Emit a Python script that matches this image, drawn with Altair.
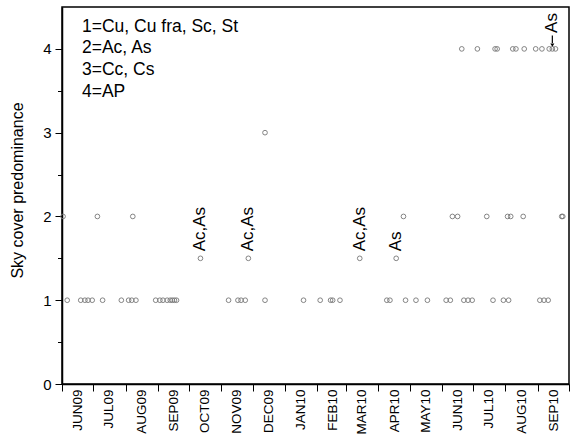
import altair as alt
import pandas as pd

FONT = "Liberation Sans"

# Observation dates for each sky-cover class
cover_1_dates = [
    "2009-06-06", "2009-06-19", "2009-06-23", "2009-06-26", "2009-06-30",
    "2009-07-10", "2009-07-28", "2009-08-04", "2009-08-07", "2009-08-11",
    "2009-08-30", "2009-09-03", "2009-09-06", "2009-09-10", "2009-09-13",
    "2009-09-15", "2009-09-17", "2009-09-19", "2009-11-08", "2009-11-17",
    "2009-11-20", "2009-11-24", "2009-12-13", "2010-01-19", "2010-02-04",
    "2010-02-14", "2010-02-16", "2010-02-23", "2010-04-09", "2010-04-12",
    "2010-04-27", "2010-05-07", "2010-05-18", "2010-06-05", "2010-06-09",
    "2010-06-22", "2010-06-26", "2010-06-30", "2010-07-20", "2010-07-30",
    "2010-08-04", "2010-09-03", "2010-09-07", "2010-09-11",
]
cover_15_dates = ["2009-10-12", "2009-11-27", "2010-03-14", "2010-04-18"]
cover_2_dates = [
    "2009-06-02", "2009-07-05", "2009-08-08", "2010-04-25", "2010-06-11",
    "2010-06-16", "2010-07-14", "2010-08-03", "2010-08-06", "2010-08-18",
    "2010-09-24", "2010-09-25",
]
cover_3_dates = ["2009-12-13"]
cover_4_dates = [
    "2010-06-20", "2010-07-05", "2010-07-22", "2010-07-24", "2010-08-08",
    "2010-08-11", "2010-08-19", "2010-08-30", "2010-09-05", "2010-09-12",
    "2010-09-15", "2010-09-18",
]

# Cloud-type notes written beside the mixed days
note_dates = ["2009-10-12", "2009-11-27", "2010-03-14", "2010-04-18"]
note_labels = ["Ac,As", "Ac,As", "Ac,As", "As"]
arrow_date = "2010-09-15"
arrow_label = "As"

key_lines = ["1=Cu, Cu fra, Sc, St", "2=Ac, As", "3=Cc, Cs", "4=AP"]

month_labels = ["JUN09", "JUL09", "AUG09", "SEP09", "OCT09", "NOV09", "DEC09",
                "JAN10", "FEB10", "MAR10", "APR10", "MAY10", "JUN10", "JUL10",
                "AUG10", "SEP10"]

rows = []
for dates, level in [(cover_1_dates, 1), (cover_15_dates, 1.5), (cover_2_dates, 2),
                     (cover_3_dates, 3), (cover_4_dates, 4)]:
    rows += [{"date": d, "cover": level} for d in dates]
obs = pd.DataFrame(rows)
notes = pd.DataFrame({"date": note_dates, "cover": [1.5] * len(note_dates),
                      "label": note_labels})
arrow_note = pd.DataFrame({"date": [arrow_date], "cover": [4], "label": [arrow_label]})
arrow_line = pd.DataFrame({"date": [arrow_date], "cover": [4.16], "cover_end": [4.07]})
arrow_head = pd.DataFrame({"date": [arrow_date], "cover": [4.045]})

# Month boundaries carry ticks, mid-month values carry the labels
tick_values = []
for i in range(17):
    y, m = 2009 + (5 + i) // 12, (5 + i) % 12 + 1
    tick_values.append(alt.DateTime(year=y, month=m, date=1, utc=True))
    if i < 16:
        tick_values.append(alt.DateTime(year=y, month=m, date=16, utc=True))

label_array = "[" + ",".join(f"'{s}'" for s in month_labels) + "]"
x_label_expr = (f"utcdate(datum.value) == 1 ? '' : "
                f"{label_array}[(utcyear(datum.value) - 2009) * 12 + utcmonth(datum.value) - 5]")

x_scale = alt.Scale(type="utc", domain=[alt.DateTime(year=2009, month=6, date=1, utc=True),
                                        alt.DateTime(year=2010, month=10, date=1, utc=True)])
x_axis = alt.Axis(values=tick_values, labelExpr=x_label_expr, labelAngle=-90,
                  labelFontSize=13.5, labelPadding=-2, tickSize=7, labelOverlap=False,
                  labelBound=False, labelFlush=False,
                  tickOpacity={"condition": {"test": "utcdate(datum.value) != 1", "value": 0},
                               "value": 1})

y_scale = alt.Scale(domain=[0, 4.5], nice=False, zero=False)
y_axis = alt.Axis(values=[0, 0.5, 1, 1.5, 2, 2.5, 3, 3.5, 4],
                  labelExpr="datum.value % 1 == 0 ? format(datum.value, 'd') : ''",
                  labelFontSize=15, labelPadding=4, titleFontSize=16,
                  titleFontWeight="normal", titleX=-37, titleY=183,
                  tickSize={"condition": {"test": "datum.value % 1 == 0", "value": 7},
                            "value": 4.5})


def x_enc():
    return alt.X("date:T", scale=x_scale, axis=x_axis, title=None)


def y_enc():
    return alt.Y("cover:Q", scale=y_scale, axis=y_axis, title="Sky cover predominance")


points = alt.Chart(obs).mark_point(
    shape="circle", filled=False, size=22, color="#777777", strokeWidth=0.9, opacity=1
).encode(x=x_enc(), y=y_enc())

note_text = alt.Chart(notes).mark_text(
    angle=270, align="left", baseline="middle", fontSize=17, font=FONT, color="black"
).encode(x=x_enc(), y=y_enc(), text="label:N", yOffset=alt.value(-7))

arrow_text = alt.Chart(arrow_note).mark_text(
    angle=270, align="left", baseline="middle", fontSize=17, font=FONT, color="black"
).encode(x=x_enc(), y=y_enc(), text="label:N", yOffset=alt.value(-16))

arrow_rule = alt.Chart(arrow_line).mark_rule(color="black", strokeWidth=1.2).encode(
    x=x_enc(), y=y_enc(), y2="cover_end:Q")

arrow_tip = alt.Chart(arrow_head).mark_point(
    shape="triangle-down", filled=True, size=16, color="black", opacity=1
).encode(x=x_enc(), y=y_enc())

key_text = alt.Chart(pd.DataFrame({"k": [0]})).mark_text(
    align="left", baseline="alphabetic", fontSize=17.5, font=FONT, color="black",
    lineHeight=21.8
).encode(x=alt.value(20), y=alt.value(24.5), text=alt.value(key_lines))

chart = alt.layer(points, note_text, arrow_text, arrow_rule, arrow_tip, key_text).properties(
    width=507, height=377,
    autosize=alt.AutoSizeParams(type="none"),
    padding={"left": 62, "top": 7, "right": 5, "bottom": 52},
    background="white",
).configure_view(
    stroke="black", strokeWidth=1.5
).configure_axis(
    grid=False, domainColor="black", domainWidth=1.5, tickColor="black", tickWidth=1,
    labelColor="black", titleColor="black", labelFont=FONT, titleFont=FONT
)

chart.save("out.html", embed_options={"renderer": "svg", "actions": False})
